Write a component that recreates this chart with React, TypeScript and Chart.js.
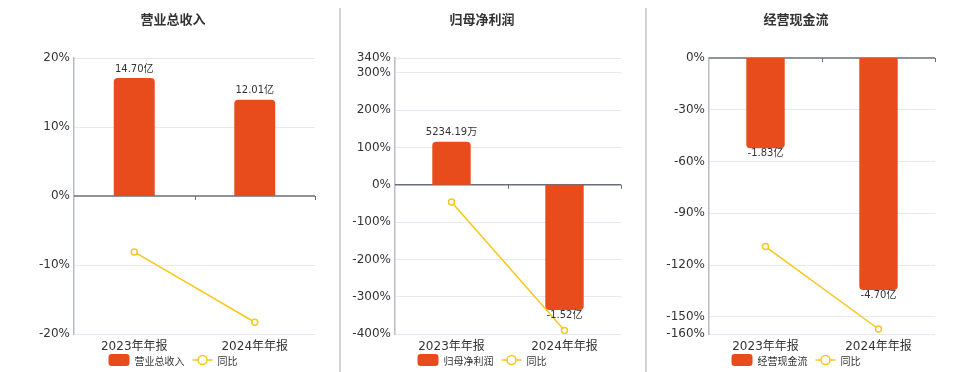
import React, { useEffect, useRef } from 'react';
import { Chart, registerables } from 'chart.js';

Chart.register(...registerables);

// ---------- data ----------
const categories = ['2023年年报', '2024年年报'];
const yoyLabel = '同比';

const revenueTitle = '营业总收入';
const revenueValues = [14.7, 12.01]; // 亿
const revenueLabels = ['14.70亿', '12.01亿'];
const revenueYoY = [-8.1, -18.3]; // %
const revenueTicks = [-20, -10, 0, 10, 20];

const profitTitle = '归母净利润';
const profitValues = [0.523419, -1.52]; // 亿
const profitLabels = ['5234.19万', '-1.52亿'];
const profitYoY = [-46.0, -390.4];
const profitTicks = [-400, -300, -200, -100, 0, 100, 200, 300, 340];

const cashTitle = '经营现金流';
const cashValues = [-1.83, -4.7]; // 亿
const cashLabels = ['-1.83亿', '-4.70亿'];
const cashYoY = [-109.3, -157.1];
const cashTicks = [-160, -150, -120, -90, -60, -30, 0];

// ---------- styling / layout ----------
const BAR_COLOR = '#e84c1d';
const LINE_COLOR = '#f6c71d';
const TEXT_COLOR = '#333333';
const LATIN = '"DejaVu Sans", "Noto Sans CJK SC", sans-serif';
const CJK = '"Noto Sans CJK SC", "DejaVu Sans", sans-serif';
const H = 372;

type Panel = {
  title: string;
  values: number[];
  labels: string[];
  yoy: number[];
  ticks: number[];
  barRange: [number, number];
  left: number;
  width: number;
  axisW: number;
  rightPad: number;
  cx: number;
};

const panels: Panel[] = [
  {
    title: revenueTitle, values: revenueValues, labels: revenueLabels, yoy: revenueYoY,
    ticks: revenueTicks, barRange: [-17.2, 17.2],
    left: 0, width: 339, axisW: 74, rightPad: 24, cx: 173,
  },
  {
    title: profitTitle, values: profitValues, labels: profitLabels, yoy: profitYoY,
    ticks: profitTicks, barRange: [-1.812, 1.54],
    left: 341, width: 304, axisW: 54, rightPad: 24, cx: 141,
  },
  {
    title: cashTitle, values: cashValues, labels: cashLabels, yoy: cashYoY,
    ticks: cashTicks, barRange: [-5.592, 0],
    left: 647, width: 313, axisW: 62, rightPad: 25, cx: 149,
  },
];

function PanelChart({ p }: { p: Panel }) {
  const ref = useRef<HTMLCanvasElement>(null);

  useEffect(() => {
    const canvas = ref.current;
    if (!canvas) return;

    const decor = {
      id: 'decor',
      beforeDatasetsDraw(chart: any) {
        const { ctx, chartArea, scales } = chart;
        const y0 = scales.y.getPixelForValue(0);
        const xs = scales.x;
        const mid = (xs.getPixelForValue(0) + xs.getPixelForValue(1)) / 2;
        ctx.save();
        ctx.strokeStyle = '#6b6e78';
        ctx.lineWidth = 1.5;
        ctx.beginPath();
        ctx.moveTo(chartArea.left, y0);
        ctx.lineTo(chartArea.right, y0);
        ctx.stroke();
        ctx.lineWidth = 1;
        ctx.beginPath();
        [mid, chartArea.right].forEach((x) => {
          ctx.moveTo(Math.round(x) + 0.5, y0);
          ctx.lineTo(Math.round(x) + 0.5, y0 + 4);
        });
        ctx.stroke();
        ctx.restore();
      },
      afterDraw(chart: any) {
        const { ctx } = chart;
        ctx.save();
        // data labels
        const meta = chart.getDatasetMeta(0);
        ctx.font = `10px ${LATIN}`;
        ctx.fillStyle = TEXT_COLOR;
        ctx.textAlign = 'center';
        ctx.textBaseline = 'middle';
        meta.data.forEach((el: any, i: number) => {
          const v = p.values[i];
          if (v >= 0) ctx.fillText(p.labels[i], el.x, el.y - 9);
          else ctx.fillText(p.labels[i], el.x, el.y + 5);
        });
        // title
        ctx.font = `bold 13px ${CJK}`;
        ctx.fillStyle = TEXT_COLOR;
        ctx.textAlign = 'center';
        ctx.textBaseline = 'middle';
        ctx.fillText(p.title, p.cx, 19);
        // legend
        ctx.font = `10px ${CJK}`;
        const t1 = ctx.measureText(p.title).width;
        const t2 = ctx.measureText(yoyLabel).width;
        const sw = 21, gap = 5, gap2 = 8, lw = 20;
        const total = sw + gap + t1 + gap2 + lw + gap + t2;
        let x = p.cx - total / 2;
        const ly = 360;
        ctx.fillStyle = BAR_COLOR;
        ctx.beginPath();
        if ((ctx as any).roundRect) (ctx as any).roundRect(x, ly - 6, sw, 12, 3);
        else ctx.rect(x, ly - 6, sw, 12);
        ctx.fill();
        x += sw + gap;
        ctx.fillStyle = TEXT_COLOR;
        ctx.textAlign = 'left';
        ctx.fillText(p.title, x, ly + 1);
        x += t1 + gap2;
        ctx.strokeStyle = LINE_COLOR;
        ctx.lineWidth = 1.5;
        ctx.beginPath();
        ctx.moveTo(x, ly);
        ctx.lineTo(x + lw, ly);
        ctx.stroke();
        ctx.beginPath();
        ctx.arc(x + lw / 2, ly, 4.5, 0, Math.PI * 2);
        ctx.fillStyle = '#ffffff';
        ctx.fill();
        ctx.stroke();
        x += lw + gap;
        ctx.fillStyle = TEXT_COLOR;
        ctx.fillText(yoyLabel, x, ly + 1);
        ctx.restore();
      },
    };

    const tickVals = p.ticks;
    const chart = new Chart(canvas, {
      type: 'bar',
      data: {
        labels: categories,
        datasets: [
          {
            type: 'bar',
            label: p.title,
            data: p.values,
            yAxisID: 'y1',
            backgroundColor: BAR_COLOR,
            borderWidth: 0,
            borderRadius: 4,
            borderSkipped: 'start',
            categoryPercentage: 1,
            barPercentage: 0.34,
            order: 2,
          } as any,
          {
            type: 'line',
            label: yoyLabel,
            data: p.yoy,
            yAxisID: 'y',
            borderColor: LINE_COLOR,
            borderWidth: 1.5,
            pointRadius: 3,
            pointBorderWidth: 1.5,
            pointBackgroundColor: '#ffffff',
            pointBorderColor: LINE_COLOR,
            fill: false,
            tension: 0,
            order: 1,
          } as any,
        ],
      },
      options: {
        animation: false,
        responsive: false,
        devicePixelRatio: 1,
        layout: { padding: { top: 58, bottom: 18, left: 0, right: p.rightPad } },
        plugins: {
          legend: { display: false },
          title: { display: false },
          tooltip: { enabled: false },
        },
        scales: {
          x: {
            offset: true,
            grid: { display: false, drawTicks: false },
            border: { display: false },
            ticks: {
              color: TEXT_COLOR,
              font: { size: 12, family: LATIN },
              padding: 6,
              maxRotation: 0,
            },
            afterFit(scale: any) {
              scale.height = 20;
            },
          },
          y: {
            position: 'left',
            min: Math.min(...tickVals),
            max: Math.max(...tickVals),
            afterBuildTicks(scale: any) {
              scale.ticks = tickVals.map((v) => ({ value: v }));
            },
            afterFit(scale: any) {
              scale.width = p.axisW;
            },
            grid: {
              drawTicks: false,
              color: (c: any) => (c.tick && c.tick.value === 0 ? 'rgba(0,0,0,0)' : '#e6e9f1'),
              lineWidth: 1,
            },
            border: { display: true, color: '#b8bcc6', width: 1.5 },
            ticks: {
              autoSkip: false,
              color: TEXT_COLOR,
              font: { size: 12, family: LATIN },
              padding: 4,
              callback: (v: any) => `${v}%`,
            },
          },
          y1: {
            display: false,
            min: p.barRange[0],
            max: p.barRange[1],
          },
        },
      } as any,
      plugins: [decor],
    });

    return () => chart.destroy();
  }, [p]);

  return (
    <canvas
      ref={ref}
      width={p.width}
      height={H}
      style={{ position: 'absolute', left: p.left, top: 0, width: p.width, height: H, display: 'block' }}
    />
  );
}

export default function App() {
  return (
    <div style={{ position: 'absolute', left: 0, top: 0, width: 960, height: H, background: '#ffffff', overflow: 'hidden' }}>
      {panels.map((p, i) => (
        <PanelChart key={i} p={p} />
      ))}
      <div style={{ position: 'absolute', left: 339, top: 8, width: 2, height: H - 8, background: '#d4d4d4' }} />
      <div style={{ position: 'absolute', left: 645, top: 8, width: 2, height: H - 8, background: '#d4d4d4' }} />
    </div>
  );
}
